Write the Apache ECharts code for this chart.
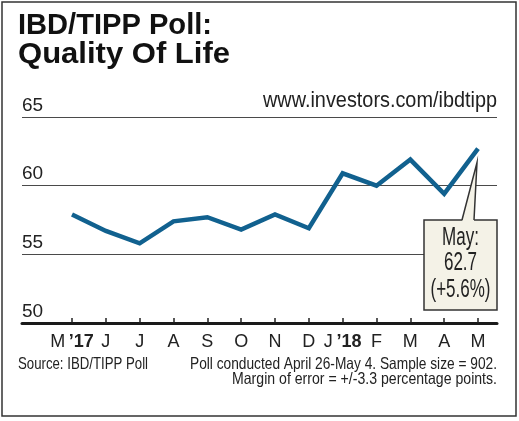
<!DOCTYPE html>
<html>
<head>
<meta charset="utf-8">
<script src="https://cdn.jsdelivr.net/npm/echarts@6/dist/echarts.min.js"></script>
<style>
html,body{margin:0;padding:0;background:#fff;}
#c{width:519px;height:421px;}
</style>
</head>
<body>
<div id="c"></div>
<script>
const months = ['M','J','J','A','S','O','N','D','J','F','M','A','M'];
const yearTags = ['\u201917','','','','','','','','\u201918','','','',''];
const values = [57.9, 56.7, 55.8, 57.4, 57.7, 56.8, 57.9, 56.9, 60.9, 60.0, 61.9, 59.4, 62.7];
const yTicks = [50, 55, 60, 65];

const SANS = '"Liberation Sans", Arial, sans-serif';
const LINE = '#11618f';
const INK = '#222';

// horizontal scale so that a text spans a given width (emulates a condensed face)
const mctx = document.createElement('canvas').getContext('2d');
function fit(text, font, target) {
  mctx.font = font;
  return target / mctx.measureText(text).width;
}

const chart = echarts.init(document.getElementById('c'), null, {renderer: 'canvas'});

const titleFont = 'bold 30px ' + SANS;
const urlFont = '22px ' + SANS;
const noteFont = '16.5px ' + SANS;
const boxFont = '26px ' + SANS;

function txt(text, font, x, y, align, target, fill) {
  return {type: 'text', x: x, y: y, scaleX: fit(text, font, target),
    style: {text: text, font: font, fill: fill || INK, align: align, verticalAlign: 'middle'}};
}

const option = {
  animation: false,
  backgroundColor: '#ffffff',
  grid: [
    {left: 22, right: 22, top: 117, bottom: 98},
    {left: 72, right: 41, top: 117, bottom: 98}
  ],
  xAxis: [
    {
      gridIndex: 0, type: 'value', min: 0, max: 1,
      axisLine: {show: true, lineStyle: {color: '#1a1a1a', width: 3}},
      axisTick: {show: false}, axisLabel: {show: false}, splitLine: {show: false}
    },
    {
      gridIndex: 1, type: 'category', data: months, boundaryGap: false,
      axisLine: {show: false},
      axisTick: {show: true, inside: true, length: 5, lineStyle: {color: '#222', width: 1.5}},
      axisLabel: {
        margin: 10, color: INK, fontFamily: SANS, fontSize: 18,
        interval: 0,
        formatter: function (v, i) {
          return yearTags[i] ? v + '\u2009{y|' + yearTags[i] + '}' : v;
        },
        rich: {y: {fontFamily: SANS, fontWeight: 'bold', fontSize: 18, color: INK}}
      },
      splitLine: {show: false}
    }
  ],
  yAxis: [
    {
      gridIndex: 0, type: 'value', min: yTicks[0], max: yTicks[yTicks.length - 1], interval: 5,
      axisLine: {show: false}, axisTick: {show: false},
      axisLabel: {
        inside: true, margin: 0, align: 'left', verticalAlign: 'bottom',
        padding: [0, 0, 2, 0],
        color: INK, fontFamily: SANS, fontSize: 19
      },
      splitLine: {show: true, lineStyle: {color: '#4a4a4a', width: 1}}
    },
    {
      gridIndex: 1, type: 'value', min: yTicks[0], max: yTicks[yTicks.length - 1], interval: 5,
      show: false
    }
  ],
  series: [{
    type: 'line', xAxisIndex: 1, yAxisIndex: 1, data: values,
    symbol: 'none', lineStyle: {color: LINE, width: 4.5, join: 'miter'},
    z: 5
  }],
  graphic: [
    {type: 'rect', id: 'border', shape: {x: 2, y: 2, width: 514, height: 414},
     style: {fill: 'none', stroke: '#333', lineWidth: 1.5}, z: 100},
    txt('IBD/TIPP Poll:', titleFont, 18, 26, 'left', 194, '#111'),
    txt('Quality Of Life', titleFont, 18, 54.5, 'left', 212, '#111'),
    txt('www.investors.com/ibdtipp', urlFont, 497, 100.5, 'right', 234),
    txt('Source: IBD/TIPP Poll', noteFont, 18, 364.5, 'left', 130),
    txt('Poll conducted April 26-May 4. Sample size = 902.', noteFont, 497, 364.5, 'right', 307),
    txt('Margin of error = +/-3.3 percentage points.', noteFont, 497, 379, 'right', 265)
  ]
};
chart.setOption(option);

// Callout anchored to the last data point
const last = values.length - 1;
const p = chart.convertToPixel({xAxisIndex: 1, yAxisIndex: 1}, [last, values[last]]);
const tipX = p[0] - 1, tipY = p[1] + 14;
const box = {x: 424, y: 220, w: 73, h: 90};
const fillC = '#f4f2e7';
const cx = box.x + box.w / 2;
const bs = fit('(+5.6%)', boxFont, 60);
function boxText(id, text, y) {
  return {type: 'text', id: id, x: cx, y: y, scaleX: bs, z: 23,
    style: {text: text, font: boxFont, fill: INK, align: 'center', verticalAlign: 'middle'}};
}
chart.setOption({
  graphic: [
    {type: 'rect', id: 'cbox', shape: {x: box.x, y: box.y, width: box.w, height: box.h},
     style: {fill: fillC, stroke: '#333', lineWidth: 1.5}, z: 20},
    {type: 'polygon', id: 'cptrfill', shape: {points: [[462, box.y + 1.5], [tipX, tipY], [474, box.y + 1.5]]},
     style: {fill: fillC, stroke: null}, z: 21},
    {type: 'polyline', id: 'cptr', shape: {points: [[462, box.y], [tipX, tipY], [474, box.y]]},
     style: {fill: null, stroke: '#333', lineWidth: 1.5}, z: 22},
    boxText('ct1', 'May:', 238),
    boxText('ct2', values[last].toFixed(1), 263),
    boxText('ct3', '(+5.6%)', 289.5)
  ]
});
</script>
</body>
</html>
